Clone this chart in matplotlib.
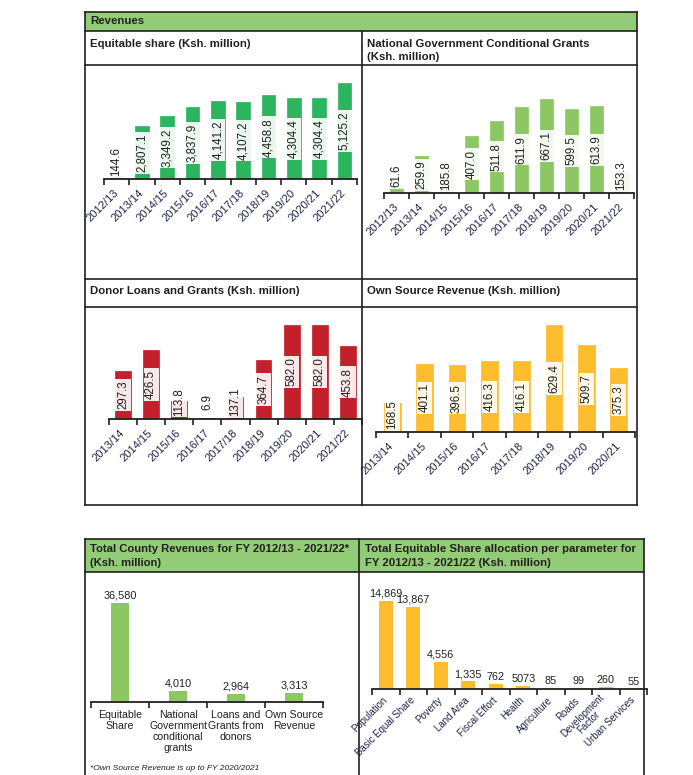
import matplotlib
matplotlib.use("Agg")
import matplotlib.pyplot as plt
from matplotlib.lines import Line2D
from matplotlib.patches import Rectangle

plt.rcParams['font.family'] = ['Liberation Sans', 'DejaVu Sans']

# ---------------- data ----------------
eq_years = ["2012/13", "2013/14", "2014/15", "2015/16", "2016/17", "2017/18",
            "2018/19", "2019/20", "2020/21", "2021/22"]
eq_values = [144.6, 2807.1, 3349.2, 3837.9, 4141.2, 4107.2, 4458.8, 4304.4, 4304.4, 5125.2]

ngcg_years = eq_years
ngcg_values = [61.6, 259.9, 185.8, 407.0, 511.8, 611.9, 667.1, 599.5, 613.9, 153.3]

donor_years = ["2013/14", "2014/15", "2015/16", "2016/17", "2017/18", "2018/19",
               "2019/20", "2020/21", "2021/22"]
donor_values = [297.3, 426.5, 113.8, 6.9, 137.1, 364.7, 582.0, 582.0, 453.8]

osr_years = ["2013/14", "2014/15", "2015/16", "2016/17", "2017/18", "2018/19",
             "2019/20", "2020/21"]
osr_values = [168.5, 401.1, 396.5, 416.3, 416.1, 629.4, 509.7, 375.3]

total_cats = ["Equitable\nShare", "National\nGovernment\nconditional\ngrants",
              "Loans and\nGrants from\ndonors", "Own Source\nRevenue"]
total_values = [36580, 4010, 2964, 3313]

param_cats = ["Population", "Basic Equal Share", "Poverty", "Land Area", "Fiscal Effort",
              "Health", "Agriculture", "Roads", "Development\nFactor", "Urban Services"]
param_values = [14869, 13867, 4556, 1335, 762, 507.3, 85, 99, 260, 55]
param_labels = ["14,869", "13,867", "4,556", "1,335", "762", "5073", "85", "99", "260", "55"]

# ---------------- layout helpers ----------------
W, H = 693, 775
fig = plt.figure(figsize=(W / 100, H / 100), dpi=100)
fig.patch.set_facecolor("white")

def fx(x):
    return x / W

def fy(y):
    return 1 - y / H

LINE = "#231f20"
TXT = "#231f20"
TICK = "#1f2547"
GREEN_HDR = "#93cc77"

def hline(x0, x1, y, lw=1.2):
    fig.add_artist(Line2D([fx(x0), fx(x1)], [fy(y), fy(y)], transform=fig.transFigure,
                          color=LINE, lw=lw, solid_capstyle="projecting"))

def vline(x, y0, y1, lw=1.2):
    fig.add_artist(Line2D([fx(x), fx(x)], [fy(y0), fy(y1)], transform=fig.transFigure,
                          color=LINE, lw=lw, solid_capstyle="projecting"))

def band(x0, x1, y0, y1, color):
    fig.add_artist(Rectangle((fx(x0), fy(y1)), (x1 - x0) / W, (y1 - y0) / H,
                             transform=fig.transFigure, facecolor=color, edgecolor="none",
                             zorder=0))

def title(x, y, s, size=8.2):
    fig.text(fx(x), fy(y), s, ha="left", va="center", fontsize=size, color=TXT,
             fontweight="bold", linespacing=1.25)

# ---------------- top box ----------------
band(85, 637, 12, 31, GREEN_HDR)
hline(85, 637, 12)
hline(85, 637, 31)
hline(85, 637, 65)
hline(85, 637, 279)
hline(85, 637, 307)
hline(85, 637, 505)
vline(85, 12, 505)
vline(637, 12, 505)
vline(362, 31, 505)

title(90, 21.5, "Revenues")
title(90, 44, "Equitable share (Ksh. million)")
title(367, 44, "National Government Conditional Grants")
title(367, 57.5, "(Ksh. million)")
title(90, 291, "Donor Loans and Grants (Ksh. million)")
title(367, 291, "Own Source Revenue (Ksh. million)")

# ---------------- bottom box ----------------
band(85, 644, 539, 572, GREEN_HDR)
hline(85, 644, 539)
hline(85, 644, 572)
vline(85, 539, 776)
vline(644, 539, 776)
vline(359, 539, 776)

title(90, 549, "Total County Revenues for FY 2012/13 - 2021/22*", size=8.1)
title(90, 563, "(Ksh. million)", size=8.1)
title(365, 549, "Total Equitable Share allocation per parameter for")
title(365, 563, "FY 2012/13 - 2021/22 (Ksh. million)")

fig.text(fx(90), fy(769), "*Own Source Revenue is up to FY 2020/2021", ha="left", va="center",
         fontsize=6, style="italic", color=TXT)


def make_axes(x0, x1, base, top):
    ax = fig.add_axes([fx(x0), fy(base), (x1 - x0) / W, (base - top) / H])
    ax.set_facecolor("none")
    for s in ("top", "right", "left"):
        ax.spines[s].set_visible(False)
    ax.spines["bottom"].set_color(LINE)
    ax.spines["bottom"].set_linewidth(1.3)
    ax.set_yticks([])
    return ax


def base_ticks(ax, n):
    ax.set_xlim(-0.5, n - 0.5)
    ax.set_xticks([i - 0.5 for i in range(n + 1)], minor=True)
    ax.tick_params(axis="x", which="minor", length=4, width=1.2, color=LINE, direction="out")
    ax.tick_params(axis="x", which="major", length=0)


def year_panel(x0, x1, base, top, cats, vals, color, width=0.54):
    ax = make_axes(x0, x1, base, top)
    n = len(cats)
    ymax = max(vals)
    ax.bar(range(n), vals, width=width, color=color, edgecolor=color, linewidth=0.5, zorder=2)
    ax.set_ylim(0, ymax)
    base_ticks(ax, n)
    ax.set_xticks(range(n))
    ax.set_xticklabels(cats, rotation=45, ha="right", va="center", rotation_mode="anchor",
                       fontsize=8, color=TICK)
    ax.tick_params(axis="x", which="major", pad=9)
    hpx = base - top
    for i, v in enumerate(vals):
        vpx = v / ymax * hpx
        cpx = max(vpx / 2, 17)
        ax.text(i, cpx / hpx * ymax, f"{v:,.1f}", rotation=90, ha="center", va="center",
                fontsize=8.3, color=TXT, zorder=3, clip_on=False,
                bbox=dict(boxstyle="square,pad=0.14", facecolor="white", alpha=0.9,
                          edgecolor="none"))
    return ax


year_panel(104, 357, 179, 83, eq_years, eq_values, "#2bb55f")
year_panel(384, 634, 193, 99, ngcg_years, ngcg_values, "#8dc764")
year_panel(109, 362, 419, 325, donor_years, donor_values, "#c3202b", width=0.56)
year_panel(376, 635, 432, 325, osr_years, osr_values, "#fdbd2c", width=0.52)

# ---------------- total county revenues ----------------
ax = make_axes(91, 323, 702, 603)
n = len(total_cats)
ax.bar(range(n), total_values, width=0.32, color="#8dc764", zorder=2)
ax.set_ylim(0, max(total_values))
base_ticks(ax, n)
ax.set_xticks(range(n))
ax.set_xticklabels(total_cats, fontsize=7.6, color=TXT, linespacing=1.1)
ax.tick_params(axis="x", which="major", pad=6)
for i, v in enumerate(total_values):
    ax.annotate(f"{v:,}", (i, v), xytext=(0, 2), textcoords="offset points", ha="center",
                va="bottom", fontsize=7.8, color=TXT, annotation_clip=False)

# ---------------- equitable share per parameter ----------------
ax = make_axes(372, 647, 689, 601)
n = len(param_cats)
ax.bar(range(n), param_values, width=0.5, color="#fdbd2c", zorder=2)
ax.set_ylim(0, max(param_values))
base_ticks(ax, n)
ax.set_xticks(range(n))
ax.set_xticklabels(param_cats, rotation=45, ha="right", va="center", rotation_mode="anchor",
                   fontsize=6.9, color=TICK, linespacing=0.9, multialignment="center")
ax.tick_params(axis="x", which="major", pad=7)
for i, (v, lab) in enumerate(zip(param_values, param_labels)):
    ax.annotate(lab, (i, v), xytext=(0, 1.5), textcoords="offset points", ha="center",
                va="bottom", fontsize=7.8, color=TXT, annotation_clip=False)

fig.savefig("out.png", dpi=100, facecolor="white")
